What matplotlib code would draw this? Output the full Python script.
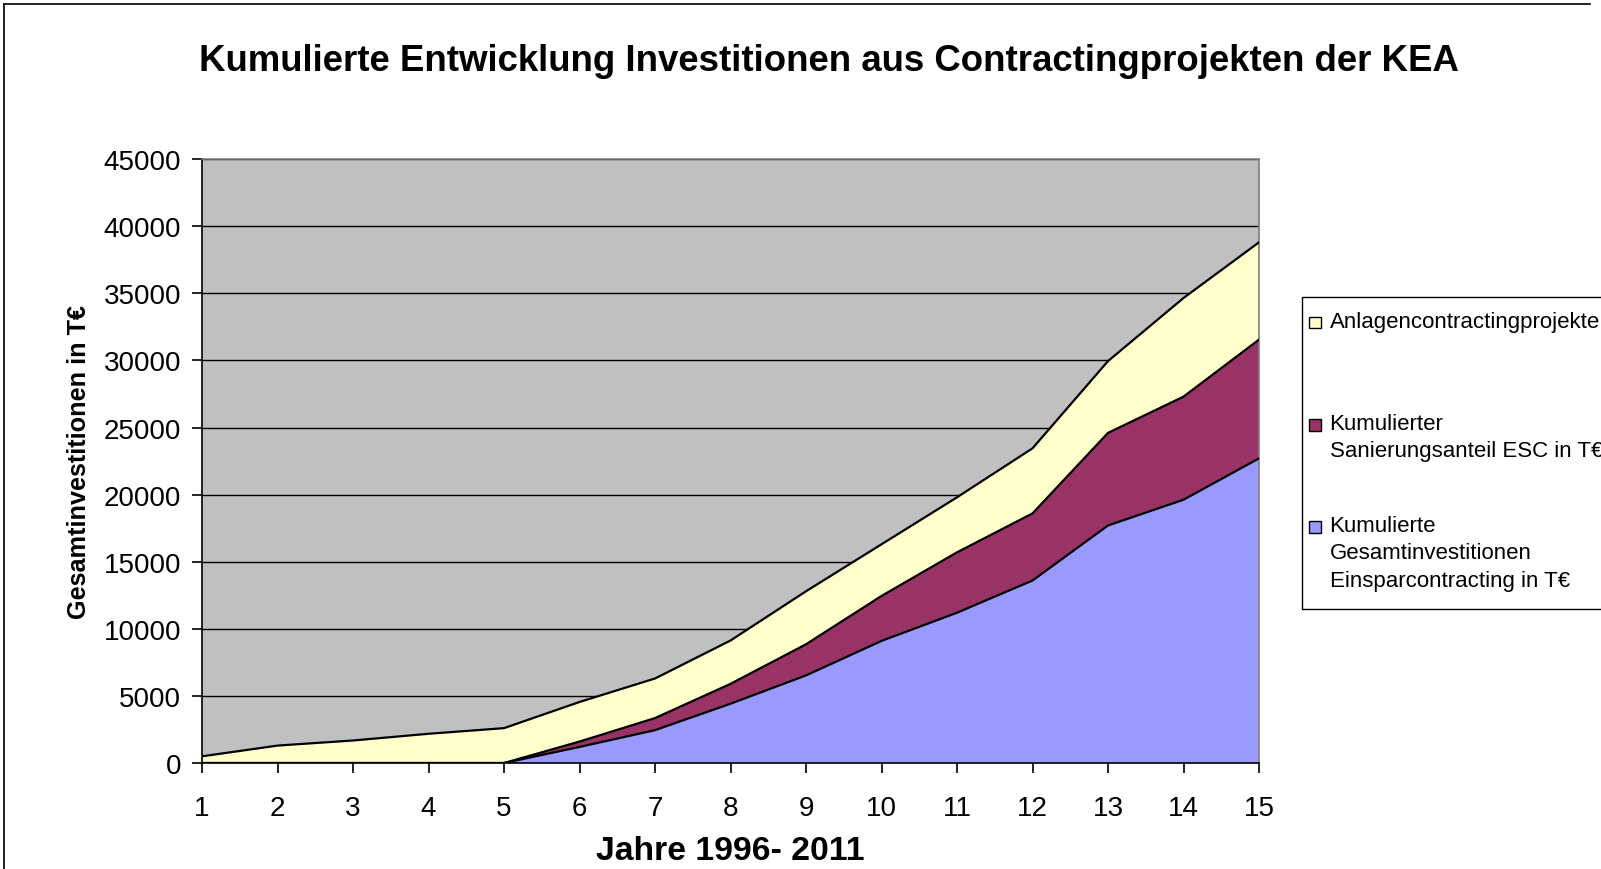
import matplotlib.pyplot as plt
import matplotlib.patches as patches
import numpy as np

plt.rcParams['font.family'] = ['Liberation Sans', 'DejaVu Sans']

# Jahre 1..15 (1996-2011)
jahre = list(range(1, 16))
# Kumulierte Gesamtinvestitionen Einsparcontracting in T€
einspar = [0, 0, 0, 0, 0, 1200, 2450, 4420, 6530, 9100, 11200, 13600, 17700, 19620, 22700]
# Kumulierter Sanierungsanteil ESC in T€
sanierung = [0, 0, 0, 0, 0, 400, 900, 1480, 2320, 3350, 4500, 5000, 6900, 7680, 8850]
# Anlagencontractingprojekte
anlagen = [500, 1300, 1680, 2180, 2600, 2950, 2950, 3230, 3950, 3850, 4100, 4850, 5350, 7350, 7250]

legend_labels = ['Anlagencontractingprojekte',
                 'Kumulierter\nSanierungsanteil ESC in T€',
                 'Kumulierte\nGesamtinvestitionen\nEinsparcontracting in T€']
farben = ['#FFFFCC', '#993366', '#9999FF']

fig = plt.figure(figsize=(16.01, 8.7), dpi=100)
ax = fig.add_axes([0.1262, 0.1218, 0.7864 - 0.1262, 0.816 - 0.1218])
ax.set_facecolor('#C0C0C0')

x = np.array(jahre)
s1 = np.array(einspar)
s2 = s1 + np.array(sanierung)
s3 = s2 + np.array(anlagen)

ax.fill_between(x, 0, s1, facecolor=farben[2], edgecolor='none', zorder=2)
ax.fill_between(x, s1, s2, facecolor=farben[1], edgecolor='none', zorder=2)
ax.fill_between(x, s2, s3, facecolor=farben[0], edgecolor='none', zorder=2)
for s in (s1, s2, s3):
    ax.plot(x, s, color='black', linewidth=1.6, zorder=3)

ax.set_xlim(1, 15)
ax.set_ylim(0, 45000)
ax.set_xticks(jahre)
ax.set_yticks(range(0, 45001, 5000))
ax.yaxis.grid(True, color='black', linewidth=1.0, zorder=1)
ax.set_axisbelow(True)
ax.tick_params(axis='both', direction='out', length=7, width=1.2, labelsize=20, colors='black')
ax.tick_params(axis='y', pad=8)
ax.tick_params(axis='x', pad=16)

for side in ('left', 'bottom'):
    ax.spines[side].set_color('black')
    ax.spines[side].set_linewidth(1.2)
for side in ('top', 'right'):
    ax.spines[side].set_color('#808080')
    ax.spines[side].set_linewidth(1.2)

ax.set_xlabel('Jahre 1996- 2011', fontsize=24.3, fontweight='bold', labelpad=10)
ax.set_ylabel('Gesamtinvestitionen in T€', fontsize=18.2, fontweight='bold', labelpad=9)

fig.text(0.5176, 0.929, 'Kumulierte Entwicklung Investitionen aus Contractingprojekten der KEA',
         ha='center', va='center', fontsize=26.4, fontweight='bold')

# Legende (Excel-Stil, rechts abgeschnitten)
W, H = 1601.0, 870.0
fig.patches.append(patches.Rectangle((1302 / W, 1 - 610 / H), 0.3, (610 - 298) / H,
                                     transform=fig.transFigure, facecolor='white',
                                     edgecolor='black', linewidth=1.0))
legend_y = [323.7, 425.8, 528.0]
for lab, farbe, yy in zip(legend_labels, farben, legend_y):
    sq = 11.5
    fig.patches.append(patches.Rectangle(((1315 - sq / 2) / W, 1 - (yy + sq / 2) / H), sq / W, sq / H,
                                         transform=fig.transFigure, facecolor=farbe,
                                         edgecolor='black', linewidth=1.0))
    fig.text(1329.5 / W, 1 - (yy - 12) / H, lab, ha='left', va='top', fontsize=16,
             linespacing=1.4, transform=fig.transFigure)

# Rahmen um die Grafik
fig.add_artist(plt.Line2D([4 / W, 4 / W], [0, 1 - 5 / H], color='black', linewidth=1.2, transform=fig.transFigure))
fig.add_artist(plt.Line2D([4 / W, 1590 / W], [1 - 5 / H, 1 - 5 / H], color='black', linewidth=1.2, transform=fig.transFigure))

fig.savefig('out.png', dpi=100)
